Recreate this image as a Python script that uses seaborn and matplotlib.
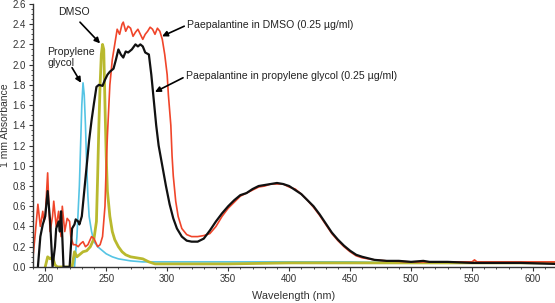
import pandas as pd
import matplotlib
matplotlib.use("Agg")
import matplotlib.pyplot as plt
import seaborn as sns
from matplotlib.ticker import MultipleLocator

# Paepalantine in propylene glycol (black)
pg_nm = [194, 196, 198, 200, 202, 204, 206, 208, 209, 211, 212, 213, 214, 215, 220, 222, 224, 225, 227, 228,
         230, 232, 234, 236, 238, 240, 242, 244, 247, 249, 251, 253, 256, 258, 260, 262, 264, 266, 268, 271, 274,
         276, 278, 280, 282, 285, 287, 289, 291, 293, 296, 299, 302, 305, 308, 312, 316, 320, 325, 330, 335,
         340, 345, 350, 355, 360, 365, 370, 375, 380, 385, 390, 395, 400, 405, 410, 415, 420, 425, 430, 435,
         440, 445, 450, 455, 460, 470, 480, 490, 500, 510, 515, 530, 550, 570, 590, 618]
pg_abs = [0.0, 0.3, 0.42, 0.5, 0.75, 0.45, 0.0, 0.2, 0.38, 0.45, 0.35, 0.55, 0.3, 0.0, 0.0, 0.38, 0.42, 0.47, 0.45, 0.42,
          0.5, 0.75, 1.0, 1.25, 1.45, 1.62, 1.78, 1.8, 1.79, 1.85, 1.9, 1.93, 1.96, 2.05, 2.15, 2.1, 2.07, 2.13, 2.12, 2.15, 2.2,
          2.18, 2.2, 2.18, 2.12, 2.1, 1.9, 1.65, 1.4, 1.2, 1.0, 0.8, 0.62, 0.48, 0.38, 0.3, 0.26, 0.25, 0.25, 0.28, 0.36,
          0.45, 0.53, 0.6, 0.66, 0.71, 0.73, 0.77, 0.8, 0.81, 0.82, 0.83, 0.82, 0.8, 0.76, 0.72, 0.66, 0.6, 0.52, 0.43, 0.34,
          0.27, 0.21, 0.16, 0.12, 0.1, 0.07, 0.06, 0.06, 0.05, 0.06, 0.05, 0.05, 0.04, 0.04, 0.04, 0.03]

# Paepalantine in DMSO (red)
dm_nm = [190, 192, 194, 196, 198, 199, 200, 202, 203, 204, 206, 207, 209, 211, 213, 214, 216, 218, 220, 221,
         223, 225, 227, 229, 231, 233, 235, 238, 240, 243, 245, 247, 249, 250, 251, 253, 255, 257, 259, 261,
         263, 264, 266, 268, 270, 272, 274, 276, 278, 280, 282, 284, 286, 288, 290, 292, 294, 296, 298, 300,
         301, 303, 304, 305, 307, 309, 312, 316, 320, 325, 330, 335, 340, 345, 350, 355, 360, 365, 370, 375,
         380, 385, 390, 395, 400, 405, 410, 415, 420, 425, 430, 435, 440, 445, 450, 455, 460, 470, 480, 500,
         520, 550, 552, 554, 580, 600, 618]
dm_abs = [0.1, 0.35, 0.62, 0.4, 0.55, 0.45, 0.5, 0.93, 0.6, 0.35, 0.5, 0.65, 0.4, 0.55, 0.3, 0.6, 0.35, 0.48, 0.45, 0.3,
          0.22, 0.22, 0.2, 0.23, 0.25, 0.2, 0.22, 0.3, 0.28, 0.2, 0.22, 0.3, 0.6, 1.0, 1.3, 1.8, 2.05, 2.2, 2.35, 2.3,
          2.4, 2.42, 2.33, 2.38, 2.36, 2.28, 2.32, 2.35, 2.3, 2.25, 2.3, 2.33, 2.37, 2.35, 2.3, 2.36, 2.33, 2.25, 2.1, 1.9,
          1.7, 1.4, 1.1, 0.9, 0.65, 0.5, 0.38, 0.32, 0.3, 0.3, 0.31, 0.33, 0.4, 0.5, 0.58, 0.64, 0.7, 0.73, 0.76, 0.79,
          0.8, 0.82, 0.82, 0.82, 0.79, 0.77, 0.72, 0.66, 0.59, 0.51, 0.42, 0.33, 0.26, 0.2, 0.15, 0.11, 0.09, 0.07, 0.06, 0.05,
          0.05, 0.05, 0.07, 0.05, 0.05, 0.05, 0.05]

# Propylene glycol blank (cyan)
pgb_nm = [224, 226, 228, 229, 230, 231, 232, 233, 234, 235, 236, 238, 240, 243, 246, 250, 255, 260, 270, 280,
          300, 400, 450, 500, 550, 618]
pgb_abs = [0.0, 0.3, 0.8, 1.2, 1.6, 1.82, 1.7, 1.4, 1.0, 0.7, 0.5, 0.35, 0.25, 0.2, 0.17, 0.13, 0.1, 0.08, 0.06, 0.05,
           0.05, 0.05, 0.05, 0.04, 0.04, 0.04]

# DMSO blank (olive)
dmb_nm = [200, 202, 204, 206, 208, 210, 222, 224, 226, 228, 231, 234, 237, 240, 242, 243, 244, 245, 246, 247,
          248, 249, 250, 251, 253, 255, 257, 260, 263, 266, 270, 275, 280, 285, 290, 320, 350, 400, 450, 500, 618]
dmb_abs = [0.0, 0.1, 0.08, 0.1, 0.02, 0.0, 0.0, 0.15, 0.1, 0.12, 0.15, 0.16, 0.2, 0.28, 0.45, 0.9, 1.4, 1.8, 2.1, 2.2,
           2.15, 1.6, 1.1, 0.75, 0.5, 0.35, 0.27, 0.2, 0.15, 0.12, 0.1, 0.09, 0.08, 0.05, 0.03, 0.03, 0.03, 0.04, 0.04, 0.04, 0.04]

sns.set_style("ticks")
plt.rcParams["font.family"] = ["Liberation Sans", "DejaVu Sans"]

fig = plt.figure(figsize=(5.55, 3.03), dpi=100)
ax = fig.add_axes([0.0595, 0.119, 0.9405, 0.868])

sns.lineplot(x=pgb_nm, y=pgb_abs, ax=ax, color="#55c4e4", lw=1.2, sort=False, estimator=None)
sns.lineplot(x=dmb_nm, y=dmb_abs, ax=ax, color="#b9b92e", lw=2.0, sort=False, estimator=None)
sns.lineplot(x=dm_nm, y=dm_abs, ax=ax, color="#f0452a", lw=1.2, sort=False, estimator=None)
sns.lineplot(x=pg_nm, y=pg_abs, ax=ax, color="#111111", lw=1.6, sort=False, estimator=None)

ax.set_xlim(190, 618)
ax.set_ylim(0, 2.6)
ax.xaxis.set_major_locator(MultipleLocator(50))
ax.xaxis.set_minor_locator(MultipleLocator(10))
ax.yaxis.set_major_locator(MultipleLocator(0.2))
ax.yaxis.set_minor_locator(MultipleLocator(0.05))
ax.yaxis.set_major_formatter(matplotlib.ticker.FormatStrFormatter("%.1f"))
ax.tick_params(which="major", length=3, width=0.8, labelsize=7, color="#333333", labelcolor="#333333", pad=2)
ax.tick_params(which="minor", length=1.5, width=0.6, color="#333333")
sns.despine(ax=ax)
for s in ("left", "bottom"):
    ax.spines[s].set_color("#333333")
    ax.spines[s].set_linewidth(1.0)

ax.set_xlabel("Wavelength (nm)", fontsize=7.8, color="#333333", labelpad=5)
ax.set_ylabel("1 mm Absorbance", fontsize=7.5, color="#333333")
ax.yaxis.set_label_coords(-0.044, 0.54)

arrow = dict(arrowstyle="-|>", color="black", lw=1.2, mutation_scale=8, shrinkA=0, shrinkB=0)
txt = dict(fontsize=7.6, color="#222222")

ax.text(223.6, 2.52, "DMSO", ha="center", va="center", **txt)
ax.annotate("", xy=(245, 2.21), xytext=(228.5, 2.42), arrowprops=arrow)

ax.text(201.5, 2.07, "Propylene\nglycol", ha="left", va="center", linespacing=1.15, **txt)
ax.annotate("", xy=(229.4, 1.82), xytext=(222, 1.97), arrowprops=arrow)

ax.text(316.3, 2.39, "Paepalantine in DMSO (0.25 µg/ml)", ha="left", va="center", **txt)
ax.annotate("", xy=(295.8, 2.28), xytext=(314, 2.38), arrowprops=arrow)

ax.text(315.5, 1.89, "Paepalantine in propylene glycol (0.25 µg/ml)", ha="left", va="center", **txt)
ax.annotate("", xy=(290, 1.73), xytext=(313, 1.87), arrowprops=arrow)

fig.savefig("out.png", dpi=100)
